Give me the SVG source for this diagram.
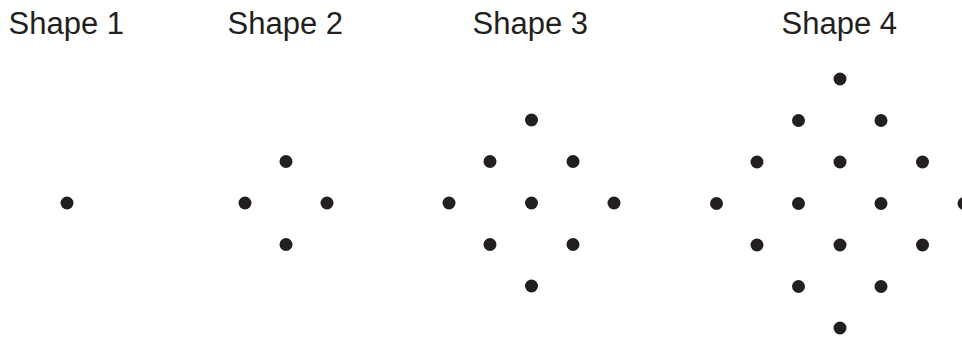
<svg xmlns="http://www.w3.org/2000/svg" width="962" height="338" viewBox="0 0 962 338">
<style>
.lbl{font-family:"Liberation Sans",Arial,sans-serif;font-size:31px;fill:#231f20}
.d{fill:#231f20}
</style>
<defs><circle id="dot" r="6.5" class="d"/></defs>
<rect width="962" height="338" fill="#fff"/>
<g id="shape1">
<text class="lbl" x="8.5" y="34">Shape 1</text>
<use href="#dot" x="67" y="203"/>
</g>
<g id="shape2">
<text class="lbl" x="227.5" y="34">Shape 2</text>
<use href="#dot" x="286" y="161.5"/>
<use href="#dot" x="245" y="203"/>
<use href="#dot" x="327" y="203"/>
<use href="#dot" x="286" y="244.5"/>
</g>
<g id="shape3">
<text class="lbl" x="472.5" y="34">Shape 3</text>
<use href="#dot" x="531.5" y="120"/>
<use href="#dot" x="490" y="161.5"/>
<use href="#dot" x="573" y="161.5"/>
<use href="#dot" x="449" y="203"/>
<use href="#dot" x="531.5" y="203"/>
<use href="#dot" x="614" y="203"/>
<use href="#dot" x="490" y="244.5"/>
<use href="#dot" x="573" y="244.5"/>
<use href="#dot" x="531.5" y="286"/>
</g>
<g id="shape4">
<text class="lbl" x="781.5" y="34">Shape 4</text>
<use href="#dot" x="840" y="79"/>
<use href="#dot" x="798.5" y="120.5"/>
<use href="#dot" x="881" y="120.5"/>
<use href="#dot" x="757" y="162"/>
<use href="#dot" x="840" y="162"/>
<use href="#dot" x="922.5" y="162"/>
<use href="#dot" x="716.5" y="203.5"/>
<use href="#dot" x="798.5" y="203.5"/>
<use href="#dot" x="881" y="203.5"/>
<use href="#dot" x="964" y="203.5"/>
<use href="#dot" x="757" y="245"/>
<use href="#dot" x="840" y="245"/>
<use href="#dot" x="922.5" y="245"/>
<use href="#dot" x="798.5" y="286.5"/>
<use href="#dot" x="881" y="286.5"/>
<use href="#dot" x="840" y="328"/>
</g>
<g id="connectors"/>
</svg>
